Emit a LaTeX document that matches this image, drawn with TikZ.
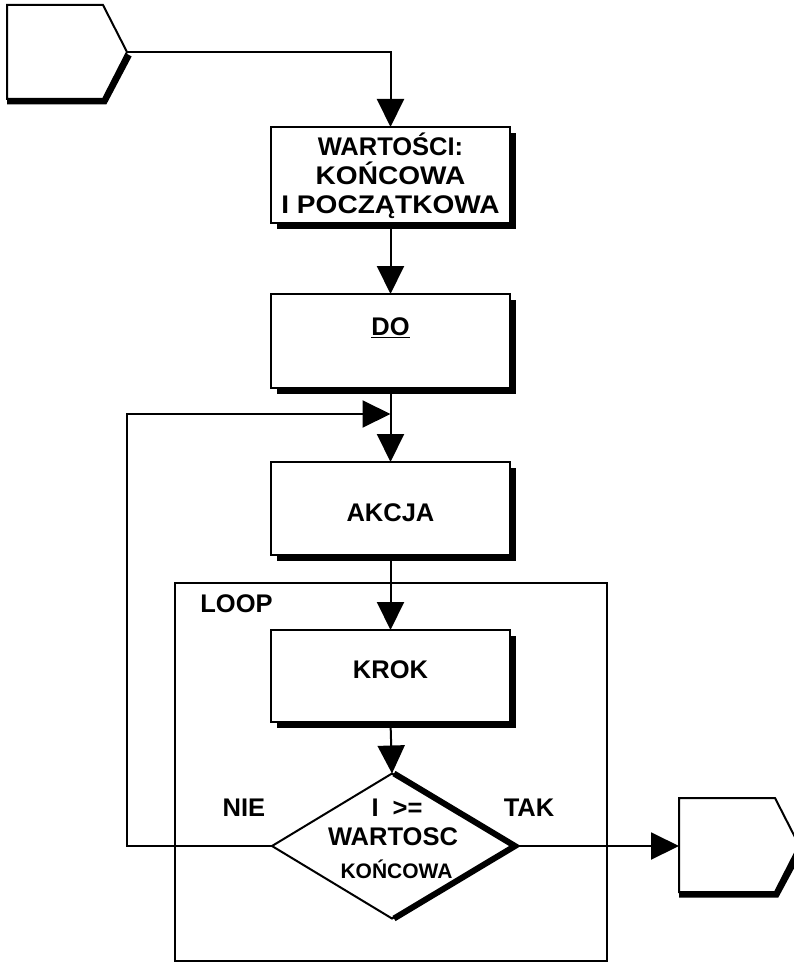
\documentclass[tikz,border=0pt]{standalone}
\usepackage{fontspec}
\setmainfont{Liberation Sans}
\newfontfamily\widesans[FakeStretch=1.1]{Liberation Sans}
\usetikzlibrary{arrows.meta,shapes.geometric,shadows}
\begin{document}
\begin{tikzpicture}[x=1pt,y=-1pt,
  font=\fontsize{25.5}{29}\selectfont\bfseries,
  thinline/.style={line width=2pt, line join=miter},
  heavy/.style={line width=6pt, line join=miter},
  flow/.style={line width=2pt, -{Triangle[length=28pt,width=27pt]}},
  stepbox/.style={rectangle, draw, line width=2pt, fill=white,
    minimum width=239pt, minimum height=94pt, inner sep=0pt, outer sep=0pt,
    general shadow={fill=black, shadow xshift=6pt, shadow yshift=-6pt}},
  lbl/.style={inner sep=0pt, align=center},
]
\useasboundingbox (0,0) rectangle (794,963);
\clip (0,0) rectangle (794,963);

% loop frame
\node[draw, line width=2pt, minimum width=432pt, minimum height=378pt,
  inner sep=0pt, outer sep=0pt] (loop) at (391,772) {};
\node[lbl] (loopText) at (236.5,604) {LOOP};

% process boxes
\node[stepbox, minimum height=96pt] (vals) at (390.5,175) {};
\node[lbl] (valsText) at (390.5,176)
  {WARTOŚCI:\\{\widesans KOŃCOWA}\\{\widesans I POCZĄTKOWA}};

\node[stepbox] (do) at (390.5,341) {};
\node[lbl] (doText) at (390.5,328) {\underline{DO}};

\node[stepbox, minimum height=93pt] (akcja) at (390.5,508.5) {};
\node[lbl] (akcjaText) at (390.5,513) {AKCJA};

\node[stepbox, minimum height=92pt] (krok) at (390.5,676) {};
\node[lbl] (krokText) at (390.5,670) {KROK};

% decision
\node[diamond, draw, line width=2pt, minimum width=240pt, minimum height=145pt,
  aspect=1.655, inner sep=0pt, outer sep=0pt] (test) at (392,846) {};
\draw[heavy] ([xshift=2pt]test.north) -- ([xshift=3pt]test.east) -- ([xshift=2pt]test.south);
\node[lbl] (testA) at (397,808) {I\hspace{14pt}>=};
\node[lbl] (testB) at (393,837) {WARTOSC};
\node[lbl, font=\fontsize{21}{24}\selectfont\bfseries] (testC) at (396.5,869) {KOŃCOWA};
\node[lbl] (nie) at (244,808) {NIE};
\node[lbl] (tak) at (529,808) {TAK};

% off-page connectors
\draw[thinline] (7,5) -- (103,5) -- (127,52) -- (103,99) -- (7,99) -- cycle;
\draw[heavy] (7,101.5) -- (104.5,101.5) -- (129,55);
\coordinate (startTip) at (127,52);

\draw[thinline] (679,798) -- (775,798) -- (799,845) -- (775,892) -- (679,892) -- cycle;
\draw[heavy] (679,894.5) -- (776.5,894.5) -- (801,849);
\coordinate (endEntry) at (679,846);

% connectors
\coordinate (loopTop) at (127,414);
\coordinate (join) at (390.5,414);
\draw[flow] (startTip) -| (vals.north);
\draw[flow] (vals.south) -- (do.north);
\draw[flow] (do.south) -- (akcja.north);
\draw[flow] (test.west) -| (loopTop) -- (join);
\draw[flow] (akcja.south) -- (krok.north);
\draw[flow] (krok.south) -- (test.north);
\draw[flow] (test.east) -- (endEntry);
\end{tikzpicture}
\end{document}
